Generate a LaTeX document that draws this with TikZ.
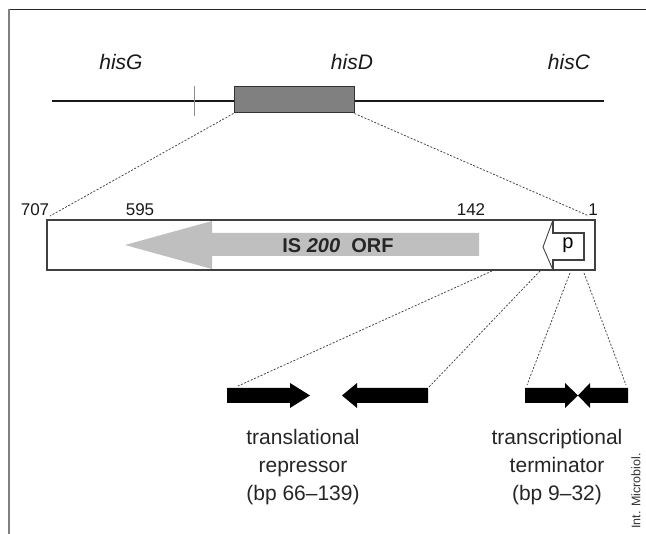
\documentclass[tikz,border=0pt]{standalone}
\usepackage{fontspec}
\setmainfont{Liberation Sans}
\begin{document}
\begin{tikzpicture}[x=1pt,y=-1pt,
  genelbl/.style={font=\fontsize{21}{22}\selectfont\itshape, inner sep=0pt, text=black!90},
  numlbl/.style={font=\fontsize{17}{18}\selectfont, inner sep=0pt, text=black!90},
  txtlbl/.style={font=\fontsize{21}{28}\selectfont, align=center, inner sep=0pt, text=black!85},
  conn/.style={dash pattern=on 2pt off 1.6pt, line width=0.75pt, black!75},
  boxline/.style={line width=1.1pt, black!75},
  blackarrow/.style={fill=black}]
\useasboundingbox (0,0) rectangle (646,534);
% frame
\draw[line width=1.2pt, black!85] (8,9.5) -- (646,9.5);
\draw[line width=2pt, black!50] (9,9) -- (9,534);
% gene labels
\node[genelbl] (hisG) at (121,62) {hisG};
\node[genelbl] (hisD) at (352,62) {hisD};
\node[genelbl] (hisC) at (569,62) {hisC};
% gene line
\coordinate (gl) at (52,101);
\coordinate (gr) at (604,101);
\draw[line width=1.8pt, black!90] (gl) -- (gr);
\coordinate (tk1) at (194,86);
\coordinate (tk2) at (194,116);
\draw[line width=0.8pt, black!45] (tk1) -- (tk2);
\node[draw=black!80, line width=1pt, fill=black!50, minimum width=120, minimum height=26, inner sep=0pt] (is) at (294,100) {};
% big box
\node[draw=black!75, line width=1.1pt, minimum width=548, minimum height=50, inner sep=0pt] (orf) at (321,245) {};
% gray arrow
\fill[black!25] (479,233) -- (212,233) -- (212,221) -- (125,245) -- (212,269) -- (212,256) -- (479,256) -- cycle;
\node[font=\fontsize{20}{22}\selectfont\bfseries, inner sep=0pt, text=black!85] (orflbl) at (338,246) {IS \textit{200}\ \ ORF};
% promoter
\draw[boxline] (553,220) -- (553,233) -- (584,233) -- (584,260) -- (553,260) -- (553,270);
\draw[boxline, line width=0.9pt] (553,220) -- (543,247) -- (553,270);
\node[font=\fontsize{20}{22}\selectfont, inner sep=0pt] (p) at (568,245) {p};
% numbers
\node[numlbl] (n707) at (35,210) {707};
\node[numlbl] (n595) at (140,210) {595};
\node[numlbl] (n142) at (471,210) {142};
\node[numlbl] (n1) at (593,210) {1};
% dashed connectors top
\coordinate (c1) at (50,216);
\coordinate (c2) at (589,216);
\draw[conn] (is.south west) -- (c1);
\draw[conn] (is.south east) -- (c2);
% black arrows
\fill[blackarrow] (227,388) -- (290,388) -- (290,383) -- (310,395.5) -- (290,408) -- (290,403) -- (227,403) -- cycle;
\fill[blackarrow] (428,388) -- (357,388) -- (357,383) -- (342,395.5) -- (357,408) -- (357,403) -- (428,403) -- cycle;
\fill[blackarrow] (525,388) -- (565,388) -- (565,383) -- (578,395.5) -- (565,408) -- (565,403) -- (525,403) -- cycle;
\fill[blackarrow] (628,388) -- (590,388) -- (590,383) -- (578,395.5) -- (590,408) -- (590,403) -- (628,403) -- cycle;
% dashed connectors bottom
\coordinate (s1) at (492,271);
\coordinate (e1) at (238,386);
\coordinate (s2) at (540,271);
\coordinate (e2) at (429,387);
\coordinate (s3) at (570,273);
\coordinate (e3) at (527,385);
\coordinate (s4) at (584,273);
\coordinate (e4) at (626,385);
\draw[conn] (s1) -- (e1);
\draw[conn] (s2) -- (e2);
\draw[conn] (s3) -- (e3);
\draw[conn] (s4) -- (e4);
% texts
\node[txtlbl] (tr) at (303,467) {translational\\repressor\\(bp 66--139)};
\node[txtlbl] (tt) at (557,467) {transcriptional\\terminator\\(bp 9--32)};
\node[font=\fontsize{12.5}{14}\selectfont, rotate=90, anchor=west, inner sep=0pt, text=black!80] (cred) at (636,529) {Int. Microbiol.};
\end{tikzpicture}
\end{document}
